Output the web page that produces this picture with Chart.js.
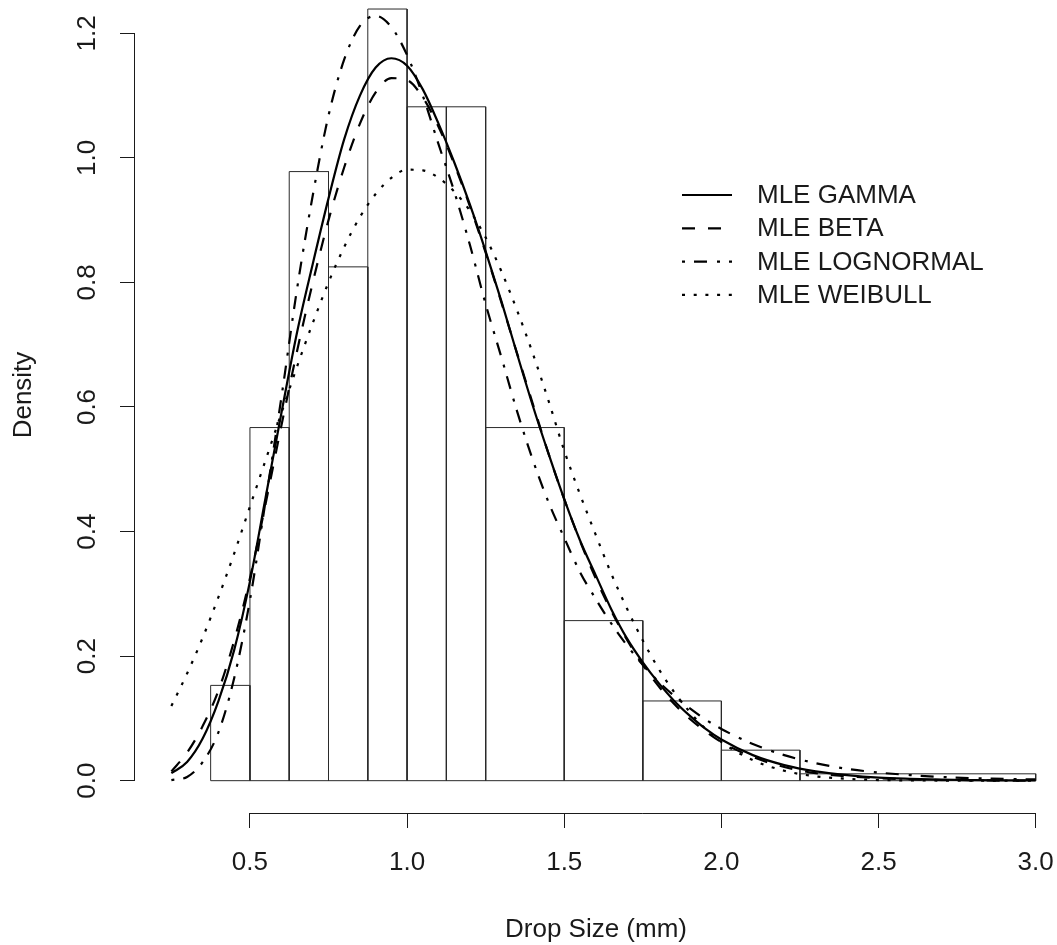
<!DOCTYPE html>
<html lang="en">
<head>
  <meta charset="UTF-8" />
  <title>Drop Size Density</title>
  <script src="https://cdn.jsdelivr.net/npm/chart.js"></script>
  <style>
    html, body {
      margin: 0;
      padding: 0;
      background: #fff;
    }
  </style>
</head>
<body>
  <canvas id="densityChart" width="1057" height="945"></canvas>

  <script>
    // histogram (R hist, unequal breaks)
    const binEdges = [0.375, 0.5, 0.625, 0.75, 0.875, 1.0, 1.125, 1.25, 1.5, 1.75, 2.0, 2.25, 3.0];
    const binDensity = [0.153, 0.567, 0.978, 0.825, 1.239, 1.082, 1.082, 0.567, 0.257, 0.128, 0.049, 0.011];

    // fitted densities
    const xGrid = [0.25, 0.30, 0.35, 0.40, 0.45, 0.50, 0.55, 0.60, 0.65, 0.70,
                   0.75, 0.80, 0.85, 0.90, 0.95, 1.00, 1.05, 1.10, 1.15, 1.20,
                   1.25, 1.30, 1.35, 1.40, 1.45, 1.50, 1.55, 1.60, 1.65, 1.70,
                   1.75, 1.80, 1.85, 1.90, 1.95, 2.00, 2.10, 2.20, 2.30, 2.40,
                   2.50, 2.60, 2.70, 2.80, 2.90, 3.00];
    const gammaFit = [0.012, 0.030, 0.068, 0.128, 0.21, 0.32, 0.455, 0.59, 0.72, 0.83,
                      0.935, 1.03, 1.10, 1.145, 1.16, 1.148, 1.11, 1.055, 0.993, 0.925,
                      0.85, 0.77, 0.685, 0.602, 0.525, 0.452, 0.386, 0.33, 0.275, 0.228,
                      0.19, 0.157, 0.128, 0.104, 0.083, 0.066, 0.041, 0.025, 0.015, 0.009,
                      0.005, 0.003, 0.0017, 0.001, 0.0005, 0.0003];
    const betaFit = [0.015, 0.045, 0.088, 0.145, 0.225, 0.325, 0.445, 0.57, 0.69, 0.80,
                     0.90, 0.985, 1.055, 1.105, 1.128, 1.125, 1.097, 1.05, 0.99, 0.922,
                     0.848, 0.768, 0.686, 0.605, 0.525, 0.452, 0.385, 0.325, 0.272, 0.226,
                     0.186, 0.152, 0.123, 0.099, 0.079, 0.062, 0.038, 0.022, 0.012, 0.007,
                     0.004, 0.002, 0.001, 0.0005, 0.0002, 0.0001];
    const lognormalFit = [0.001, 0.006, 0.03, 0.078, 0.165, 0.29, 0.45, 0.615, 0.79, 0.94,
                          1.068, 1.158, 1.212, 1.228, 1.21, 1.165, 1.10, 1.022, 0.946, 0.86,
                          0.765, 0.68, 0.593, 0.515, 0.447, 0.39, 0.335, 0.292, 0.252, 0.217,
                          0.186, 0.159, 0.136, 0.116, 0.098, 0.083, 0.059, 0.041, 0.028, 0.019,
                          0.013, 0.009, 0.006, 0.004, 0.003, 0.002];
    const weibullFit = [0.12, 0.172, 0.23, 0.295, 0.365, 0.44, 0.515, 0.59, 0.665, 0.735,
                        0.80, 0.857, 0.905, 0.942, 0.968, 0.981, 0.98, 0.968, 0.946, 0.915,
                        0.872, 0.818, 0.755, 0.686, 0.61, 0.53, 0.46, 0.395, 0.332, 0.276,
                        0.225, 0.18, 0.142, 0.11, 0.083, 0.062, 0.033, 0.016, 0.007, 0.003,
                        0.001, 0.0005, 0.0002, 0.0001, 0, 0];

    const seriesNames = ['MLE GAMMA', 'MLE BETA', 'MLE LOGNORMAL', 'MLE WEIBULL'];
    const xTicks = [0.5, 1.0, 1.5, 2.0, 2.5, 3.0];
    const yTicks = [0.0, 0.2, 0.4, 0.6, 0.8, 1.0, 1.2];

    const FONT = '"Liberation Sans", Arial, sans-serif';
    const INK = '#1a1a1a';

    // each bin is a closed rectangle, bins separated by a gap point
    const histPoints = [];
    binDensity.forEach((h, i) => {
      const x0 = binEdges[i], x1 = binEdges[i + 1];
      histPoints.push({x: x0, y: 0}, {x: x0, y: h}, {x: x1, y: h}, {x: x1, y: 0}, {x: x0, y: 0}, {x: x0, y: null});
    });

    function curve(label, values, dash) {
      return {
        label: label,
        isFit: true,
        data: xGrid.map((x, i) => ({x: x, y: values[i]})),
        borderColor: '#000',
        borderWidth: 2.2,
        borderDash: dash,
        borderCapStyle: 'butt',
        pointRadius: 0,
        cubicInterpolationMode: 'monotone',
        fill: false,
        order: 1
      };
    }

    // R-style frame: axes only span first..last tick, plus ylab and legend
    const rFrame = {
      id: 'rFrame',
      afterDraw(chart) {
        const {ctx, chartArea, scales: {x, y}} = chart;
        ctx.save();
        ctx.strokeStyle = INK;
        ctx.lineWidth = 1;
        ctx.setLineDash([]);
        ctx.beginPath();
        const by = Math.round(chartArea.bottom) + 0.5;
        ctx.moveTo(x.getPixelForValue(xTicks[0]), by);
        ctx.lineTo(x.getPixelForValue(xTicks[xTicks.length - 1]), by);
        const lx = Math.round(chartArea.left) - 0.5;
        ctx.moveTo(lx, y.getPixelForValue(yTicks[0]));
        ctx.lineTo(lx, y.getPixelForValue(yTicks[yTicks.length - 1]));
        ctx.stroke();

        ctx.fillStyle = INK;
        ctx.font = '26px ' + FONT;
        ctx.textAlign = 'center';
        ctx.textBaseline = 'middle';
        ctx.save();
        ctx.translate(24, 395);
        ctx.rotate(-Math.PI / 2);
        ctx.fillText('Density', 0, 0);
        ctx.restore();

        // legend
        const lg = {x: 682, y: 195, len: 50, gap: 25, row: 33.3};
        ctx.textAlign = 'left';
        chart.data.datasets.filter(d => d.isFit).forEach((ds, i) => {
          const yy = lg.y + i * lg.row;
          ctx.strokeStyle = ds.borderColor;
          ctx.lineWidth = ds.borderWidth;
          ctx.lineCap = 'butt';
          ctx.setLineDash(ds.borderDash);
          ctx.beginPath();
          ctx.moveTo(lg.x, yy);
          ctx.lineTo(lg.x + lg.len, yy);
          ctx.stroke();
          ctx.setLineDash([]);
          ctx.fillText(ds.label, lg.x + lg.len + lg.gap, yy + 1);
        });
        ctx.restore();
      }
    };

    const ctx = document.getElementById('densityChart').getContext('2d');
    new Chart(ctx, {
      type: 'line',
      data: {
        datasets: [
          curve(seriesNames[0], gammaFit, []),
          curve(seriesNames[1], betaFit, [13, 13]),
          curve(seriesNames[2], lognormalFit, [3, 9, 13, 10]),
          curve(seriesNames[3], weibullFit, [3, 8.7]),
          {
            label: 'Histogram',
            data: histPoints,
            borderColor: '#2a2a2a',
            borderWidth: 1,
            pointRadius: 0,
            tension: 0,
            spanGaps: false,
            fill: false,
            order: 2
          }
        ]
      },
      options: {
        responsive: false,
        animation: false,
        layout: {padding: 0},
        plugins: {
          legend: {display: false},
          tooltip: {enabled: false}
        },
        scales: {
          x: {
            type: 'linear',
            min: 0.1343,
            max: 3.0678,
            afterBuildTicks: s => { s.ticks = xTicks.map(v => ({value: v})); },
            afterFit: s => {
              s.height = 132;
              s.paddingLeft = 0; s.paddingRight = 0; s.paddingTop = 0; s.paddingBottom = 0;
            },
            border: {display: false},
            grid: {drawOnChartArea: false, drawTicks: true, tickLength: 15, color: INK, lineWidth: 1},
            ticks: {
              font: {family: FONT, size: 26},
              color: INK,
              padding: 19,
              minRotation: 0,
              maxRotation: 0,
              autoSkip: false,
              callback: v => v.toFixed(1)
            },
            title: {
              display: true,
              text: 'Drop Size (mm)',
              font: {family: FONT, size: 26},
              color: INK,
              padding: {top: 0, bottom: 0}
            }
          },
          y: {
            type: 'linear',
            min: -0.0519,
            max: 1.2535,
            afterBuildTicks: s => { s.ticks = yTicks.map(v => ({value: v})); },
            afterFit: s => {
              s.width = 135;
              s.paddingLeft = 0; s.paddingRight = 0; s.paddingTop = 0; s.paddingBottom = 0;
            },
            border: {display: false},
            grid: {drawOnChartArea: false, drawTicks: true, tickLength: 15, color: INK, lineWidth: 1},
            ticks: {
              font: {family: FONT, size: 26},
              color: INK,
              padding: 14,
              minRotation: 90,
              maxRotation: 90,
              crossAlign: 'center',
              autoSkip: false,
              callback: v => v.toFixed(1)
            }
          }
        }
      },
      plugins: [rFrame]
    });
  </script>
</body>
</html>
